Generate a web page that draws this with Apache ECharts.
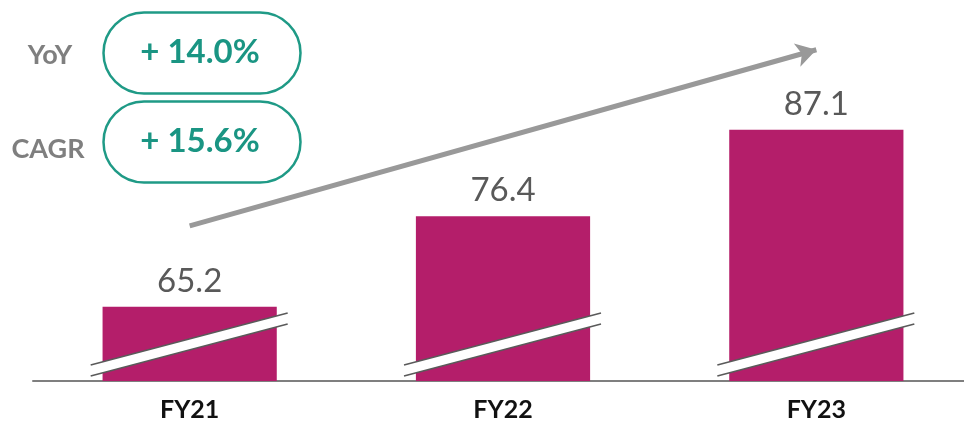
<!DOCTYPE html>
<html>
<head>
<meta charset="utf-8">
<script src="https://cdn.jsdelivr.net/npm/echarts@6/dist/echarts.min.js"></script>
<style>
  html, body { margin: 0; padding: 0; background: #fff; }
  #main { width: 964px; height: 422px; }
</style>
</head>
<body>
<div id="main"></div>
<script>
// data
var years = ['FY21', 'FY22', 'FY23'];
var revenue = [65.2, 76.4, 87.1];
var yoyText = '+ 14.0%';
var cagrText = '+ 15.6%';
// trend arrow ends, in data units
var arrowFrom = ['FY21', 75.2];
var arrowTo = ['FY23', 97];

var Y_MIN = 56, Y_MAX = 100;
var FONT = 'Lato, "Open Sans", sans-serif';
var chart = echarts.init(document.getElementById('main'));

// white axis-break band drawn across the foot of each bar
function renderBreak(params, api) {
  var base = api.coord([api.value(0), Y_MIN]);
  var cx = base[0], by = base[1];
  var l = cx - 99, r = cx + 98;
  var lineStyle = { stroke: '#5a5a5a', lineWidth: 1.6 };
  return {
    type: 'group',
    children: [
      { type: 'polygon', shape: { points: [[l, by - 16], [r, by - 68], [r, by - 57], [l, by - 5]] }, style: { fill: '#fff' } },
      { type: 'line', shape: { x1: l, y1: by - 16, x2: r, y2: by - 68 }, style: lineStyle },
      { type: 'line', shape: { x1: l, y1: by - 5, x2: r, y2: by - 57 }, style: lineStyle }
    ]
  };
}

function pill(top, text) {
  return [
    { type: 'rect', left: 101, top: top, shape: { width: 197, height: 81, r: 40.5 },
      style: { fill: 'none', stroke: '#1f9a86', lineWidth: 2.5 } },
    { type: 'text', x: 200, y: top + 42, style: { text: text, fill: '#1a9583', font: 'bold 33px ' + FONT, textAlign: 'center', textVerticalAlign: 'middle' } }
  ];
}

chart.setOption({
  animation: false,
  grid: { left: 33, right: -9, top: 25.5, bottom: 41, outerBoundsMode: 'none' },
  xAxis: {
    type: 'category',
    data: years,
    axisTick: { show: false },
    axisLine: { lineStyle: { color: '#7f7f7f', width: 2 } },
    axisLabel: { color: '#111', fontSize: 25, fontWeight: 'bold', fontFamily: FONT, margin: 16 }
  },
  yAxis: { type: 'value', min: Y_MIN, max: Y_MAX, show: false },
  series: [
    {
      type: 'bar',
      data: revenue,
      barWidth: '55.6%',
      itemStyle: { color: '#b41e6a' },
      label: { show: true, position: 'top', distance: 9, color: '#595959', fontSize: 33, fontFamily: FONT },
      markLine: {
        silent: true,
        symbol: ['none', 'arrow'],
        symbolSize: [18, 20],
        label: { show: false },
        lineStyle: { color: '#999', width: 5, type: 'solid' },
        data: [[{ coord: arrowFrom }, { coord: arrowTo }]]
      }
    },
    {
      type: 'custom',
      data: years.map(function (c, i) { return [i]; }),
      renderItem: renderBreak,
      z: 5
    }
  ],
  graphic: [
    { type: 'text', x: 50, y: 55, style: { text: 'YoY', fill: '#7f7f7f', font: 'bold 27px ' + FONT, textAlign: 'center', textVerticalAlign: 'middle' } },
    { type: 'text', x: 48, y: 149, style: { text: 'CAGR', fill: '#7f7f7f', font: 'bold 27px ' + FONT, textAlign: 'center', textVerticalAlign: 'middle' } }
  ].concat(pill(10, yoyText), pill(99, cagrText))
});
</script>
</body>
</html>
